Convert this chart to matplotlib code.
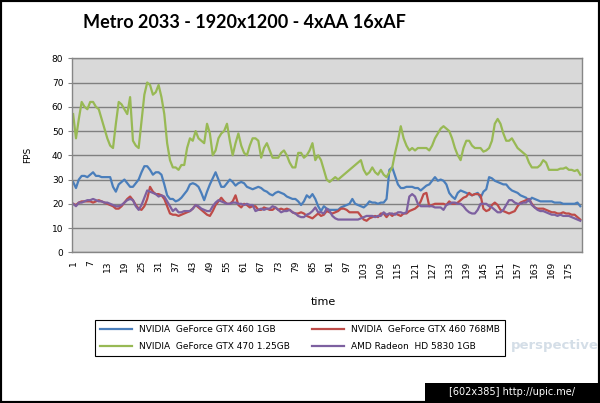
import numpy as np
import matplotlib.pyplot as plt
from matplotlib.patches import Rectangle

# Metro 2033 frame-rate traces
gtx460_1gb = [29, 26.5, 30, 31.5, 31.5, 31, 32, 33, 31.5, 31.5, 31, 31, 31, 31, 27, 25, 28, 29, 30, 28.5,
              27, 27, 28.5, 30, 33, 35.5, 35.5, 34, 32, 33, 33, 32, 28, 23.5, 22, 22, 21, 21.5, 22.5, 24,
              25.5, 28, 28.5, 28, 27, 24.5, 21.5, 25, 28, 30.5, 33, 30, 27, 27, 28.5, 30, 29, 27.5, 28.5, 29,
              28.5, 27, 26.5, 26, 26.5, 27, 26.5, 25.5, 25, 24, 23.5, 24.5, 25, 24.5, 24, 23, 22.5, 22, 22, 21,
              19.5, 21, 23.5, 22.5, 24, 22, 19, 17, 19, 18, 17.5, 17.5, 17.5, 17.5, 18.5, 19, 19.5, 20, 22, 20,
              19.5, 19, 18.5, 19.5, 21, 20.5, 20.5, 20, 20.5, 20.5, 22, 34, 35, 31.5, 28, 26.5, 26.5, 27,
              27, 27, 26.5, 26.5, 25.5, 26.5, 27.5, 28, 29.5, 31, 29.5, 30, 29.5, 28, 24.5, 23, 22, 24.5,
              25.5, 25, 24.5, 24, 23.5, 24, 24.5, 22.5, 25, 26, 31, 30.5, 29.5, 29, 28.5, 28, 28, 26.5, 25.5,
              25, 24.5, 23.5, 23, 22.5, 21, 22.5, 22, 21.5, 21, 21, 21, 21, 21, 20.5, 20.5, 20.5, 20, 20, 20,
              20, 20, 20.5, 19]
gtx460_768mb = [20, 19.5, 20.5, 21, 21, 21, 21, 20.5, 21, 21.5, 21, 20.5, 20, 19.5, 19, 18, 18, 19, 20.5, 22,
                23, 21.5, 19.5, 18, 17.5, 19, 22, 27, 25, 24, 24, 23.5, 22, 19, 16, 15.5, 15.5, 15, 15.5, 16,
                16.5, 17, 18, 19.5, 18.5, 17.5, 16.5, 15.5, 15, 17, 19.5, 21, 22.5, 21, 20, 20, 21, 23.5, 19.5,
                18.5, 20, 19.5, 18.5, 19, 19, 17.5, 17.5, 18.5, 18, 17.5, 17.5, 18.5, 17.5, 18, 17.5, 18, 17.5,
                16.5, 16, 16, 16.5, 16, 15, 14.5, 14, 15, 16, 15, 15.5, 17, 16.5, 16, 16.5, 17, 18, 18, 17.5,
                16.5, 16.5, 16.5, 16.5, 15, 13.5, 13, 14, 14.5, 15, 14.5, 16, 16, 14.5, 16, 15, 16, 15.5, 15,
                16, 16, 17, 17.5, 18, 19, 21, 24, 24.5, 19, 19.5, 20, 20, 20, 20, 19.5, 21, 20, 20, 20.5, 21.5,
                22.5, 23, 24.5, 23.5, 24, 24, 23.5, 18, 17, 17.5, 19.5, 20.5, 19.5, 17.5, 17, 16.5, 16, 16.5,
                17, 19, 20.5, 21, 21.5, 22, 20, 18.5, 18, 18, 18, 17.5, 17, 16.5, 16.5, 16, 16, 16.5, 16, 16,
                15.5, 15.5, 14.5, 13.5]
gtx470 = [57, 47, 55, 62, 60, 59, 62, 62, 60, 59, 55, 51, 47, 44, 43, 53, 62, 61, 59, 57,
          64, 46, 44, 43, 54, 65, 70, 69, 65, 66, 69, 64, 57, 45, 38, 35, 35, 34, 36, 36,
          43, 47, 46, 50, 47, 46, 45, 53, 49, 40, 42, 47, 49, 50, 53, 46, 40, 45, 49, 44,
          41, 40, 44, 47, 47, 46, 39, 43, 45, 42, 39, 39, 39, 41, 42, 40, 37, 35, 35, 41,
          41, 39, 40, 42, 45, 38, 40, 38, 34, 30, 29, 30, 31, 30, 31, 32, 33, 34, 35, 36,
          37, 38, 34, 32, 33, 35, 33, 32, 34, 32, 31, 33, 35, 41, 46, 52, 47, 44, 42, 43,
          42, 43, 43, 43, 43, 42, 44, 47, 49, 51, 52, 51, 50, 47, 43, 40, 38, 43, 46, 46,
          44, 43, 43, 43, 41.5, 42, 43, 46, 53, 55, 53, 49, 46, 46, 47, 45, 43, 42, 41, 40,
          37, 35, 35, 35, 36, 38, 37, 34, 34, 34, 34, 34.5, 34.5, 35, 34, 34, 33.5, 34, 32]
hd5830 = [20, 19, 20.5, 20.5, 21, 21.5, 21.5, 22, 21.5, 21, 21, 20.5, 20.5, 20, 19.5, 19, 19, 19.5, 20.5, 21.5,
          22, 21.5, 19, 17.5, 19.5, 22.5, 25.5, 25, 24.5, 24, 23, 23.5, 23, 21, 19, 17, 18, 16.5, 16.5, 17,
          17, 17, 18, 19.5, 19, 18, 17.5, 17, 17, 19, 20.5, 21.5, 21, 20.5, 20, 20, 20.5, 20.5, 20, 20,
          19.5, 20, 19.5, 19.5, 17, 17.5, 18, 17.5, 18, 18, 19, 18.5, 17.5, 16.5, 17, 17, 17.5, 16.5, 16, 15,
          14.5, 14.5, 15.5, 16, 17, 18.5, 16.5, 16.5, 16, 18, 17, 15, 14, 13.5, 13.5, 13.5, 13.5, 13.5, 13.5, 13.5,
          13.5, 14, 14.5, 15, 15, 15, 14.5, 15, 15, 16.5, 15.5, 16, 16, 15.5, 16.5, 16.5, 16, 16.5, 23, 24,
          23, 20, 19, 19, 19, 19, 19, 18.5, 18.5, 18.5, 17.5, 19.5, 20, 20.5, 20.5, 20, 20, 19, 17.5, 16.5,
          16, 16, 17.5, 20, 20, 20, 19, 18.5, 17.5, 16.5, 16.5, 17.5, 19.5, 21.5, 21.5, 20.5, 20, 20, 20.5, 20.5,
          22, 19.5, 18.5, 17.5, 17, 17, 16.5, 16, 15.5, 15.5, 15, 15.5, 15, 15, 15, 14.5, 14, 13.5, 13]

series_names = ['NVIDIA  GeForce GTX 460 1GB', 'NVIDIA  GeForce GTX 460 768MB',
                'NVIDIA  GeForce GTX 470 1.25GB', 'AMD Radeon  HD 5830 1GB']
y_ticks = [0, 10, 20, 30, 40, 50, 60, 70, 80]

W, H = 600, 403
fig = plt.figure(figsize=(6, 4.03), dpi=100)
fig.patch.set_facecolor('white')

# outer black frame
fig.add_artist(Rectangle((0, 0), 1, 1, transform=fig.transFigure, fill=False,
                         edgecolor='black', linewidth=3))

ax = fig.add_axes([71.7 / W, 1 - 252.3 / H, 510 / W, 194 / H])
ax.set_facecolor('#d9d9d9')
ax.set_axisbelow(True)

x = np.arange(1, len(gtx470) + 1)
colors = ['#4a7ebb', '#be4b48', '#98b954', '#7d60a0']
data = [gtx460_1gb, gtx460_768mb, gtx470, hd5830]
lines = []
for vals, col, name in zip(data, colors, series_names):
    ln, = ax.plot(x[:len(vals)], vals, color=col, linewidth=1.6, label=name)
    lines.append(ln)

ax.set_xlim(0.5, len(gtx470) + 0.5)
ax.set_ylim(0, 80)
ax.set_yticks(y_ticks)
ax.set_yticklabels([str(v) for v in y_ticks], fontsize=6.5, family='DejaVu Sans')
xt = list(range(1, len(gtx470) + 1, 6))
ax.set_xticks(xt)
ax.set_xticklabels([str(v) for v in xt], rotation=90, fontsize=6.5, family='DejaVu Sans')
ax.tick_params(axis='x', length=0, pad=6)
ax.tick_params(axis='y', length=3, color='#868686', pad=3)
ax.grid(axis='y', color='#808080', linewidth=1.0)
for s in ax.spines.values():
    s.set_color('#868686')
    s.set_linewidth(1.0)

ax.set_ylabel('FPS', fontsize=6.5, labelpad=14)
fig.text(323 / W, 1 - 302 / H, 'time', fontsize=8, ha='center', va='center')
fig.text(244 / W, 1 - 22 / H, 'Metro 2033 - 1920x1200 - 4xAA 16xAF', fontsize=13,
         fontweight='bold', family='Lato', ha='center', va='center')

# watermark, right of the legend
fig.text(511 / W, 1 - 345 / H, 'perspective', fontsize=9.5, fontweight='bold', color='#b8c8d8',
         alpha=0.6, ha='left', va='center', zorder=0)

# legend filled row by row, as in the original
order = [0, 2, 1, 3]
leg = fig.legend(handles=[lines[i] for i in order], labels=[series_names[i] for i in order], ncol=2,
                 loc='center', bbox_to_anchor=(300 / W, 1 - 338 / H), fontsize=6.5,
                 frameon=True, fancybox=False, edgecolor='black', handlelength=3.5,
                 columnspacing=2.5, borderpad=0.6, labelspacing=0.9, framealpha=1)
leg.get_frame().set_linewidth(0.8)

# image-host bar
fig.add_artist(Rectangle((425 / W, 0), 1 - 425 / W, 20 / H, transform=fig.transFigure,
                         facecolor='black', edgecolor='none'))
fig.text(512 / W, 1 - 392 / H, '[602x385] http://upic.me/', fontsize=7, color='white',
         ha='center', va='center', family='DejaVu Sans')

fig.savefig('out.png', dpi=100)
